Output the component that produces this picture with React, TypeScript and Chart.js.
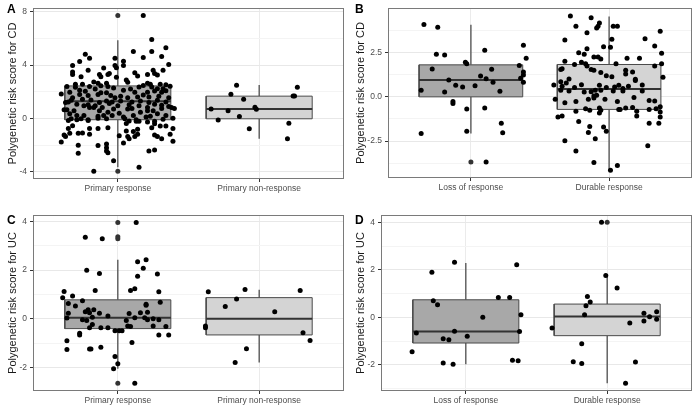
import React, { useEffect, useRef } from "react";
import { Chart, registerables } from "chart.js";

Chart.register(...registerables);

// ---------- categories ----------
const inductionCats = ["Primary response", "Primary non-response"];
const maintenanceCats = ["Loss of response", "Durable response"];

// ---------- axis tick values ----------
const aMajor = [-4, 0, 4, 8];
const aMinor = [-2, 2, 6];
const bMajor = [-2.5, 0, 2.5];
const bMinor = [-3.75, -1.25, 1.25, 3.75];
const cMajor = [-2, 0, 2, 4];
const cMinor = [-1, 1, 3];
const dMajor = [-2, 0, 2, 4];
const dMinor = [-3, -1, 1, 3];

// ---------- box statistics (per category: [first, second]) ----------
const aLow = [-3.66, -1.53];
const aQ1 = [-0.1, -0.03];
const aMed = [1.28, 0.7];
const aQ3 = [2.44, 1.67];
const aHigh = [5.86, 2.5];
const aOutliers: [number, number][] = [[1, 7.73], [1, -3.97]];

const bLow = [-2.08, -4.15];
const bQ1 = [0.0, -0.71];
const bMed = [0.96, 0.45];
const bQ3 = [1.81, 1.83];
const bHigh = [4.08, 4.55];
const bOutliers: [number, number][] = [[1, -3.68]];

const cLow = [-2.05, -1.79];
const cQ1 = [-0.4, -0.66];
const cMed = [0.04, 0.0];
const cQ3 = [0.78, 0.87];
const cHigh = [2.42, 1.19];
const cOutliers: [number, number][] = [[1, 3.95], [1, 3.37], [1, 3.29], [1, -2.64]];

const dLow = [-1.97, -2.77];
const dQ1 = [-1.08, -0.77];
const dMed = [-0.59, 0.04];
const dQ3 = [0.74, 0.56];
const dHigh = [2.29, 1.76];
const dOutliers: [number, number][] = [[2, 4.0]];

// ---------- jittered points: [jitter offset, score] ----------
const cdPrimaryResponse: [number, number][] = [
  [0.18, 7.73], [0.24, 5.92], [0.34, 5.31], [0.24, 5.02], [0.11, 5.02], [0.31, 4.65], [-0.23, 4.82], [-0.2, 4.51],
  [-0.02, 4.51], [0.18, 4.58], [0.36, 4.05], [-0.32, 3.98], [-0.27, 4.27], [-0.02, 3.98], [-0.01, 3.81], [0.04, 4.29],
  [0.04, 3.98], [-0.1, 3.78], [0.25, 3.61], [0.32, 3.61], [-0.32, 3.49], [-0.32, 3.3], [-0.21, 3.61], [-0.13, 3.3],
  [-0.07, 3.3], [-0.06, 3.37], [-0.12, 3.13], [-0.26, 3.13], [0.12, 3.42], [0.14, 3.18], [0.21, 3.3], [0.26, 3.37],
  [0.28, 3.25], [0.06, 2.88], [-0.01, 3.08], [-0.17, 2.74], [-0.14, 2.64], [-0.08, 2.64], [-0.25, 2.57], [-0.3, 2.57],
  [-0.36, 2.4], [0.07, 2.72], [0.21, 2.64], [0.23, 2.57], [0.3, 2.57], [0.34, 2.52], [0.37, 2.42], [-0.2, 2.4],
  [-0.12, 2.45], [-0.07, 2.4], [0.15, 2.35], [0.18, 2.47], [0.24, 2.35], [0.28, 2.23], [0.32, 2.23], [-0.3, 2.33],
  [-0.27, 2.11], [-0.23, 2.04], [-0.16, 2.21], [-0.03, 2.28], [0.04, 2.11], [0.09, 2.21], [0.12, 1.96], [0.21, 1.96],
  [0.26, 2.06], [0.31, 1.96], [0.34, 2.08], [-0.4, 1.84], [-0.34, 1.96], [-0.32, 1.55], [-0.27, 1.79], [-0.21, 1.72],
  [-0.14, 1.79], [-0.12, 1.92], [-0.08, 1.92], [-0.05, 1.72], [-0.02, 1.55], [0.02, 1.67], [0.07, 1.55], [0.14, 1.6],
  [0.18, 1.75], [0.22, 1.6], [0.29, 1.67], [0.36, 1.55], [-0.33, 1.36], [-0.25, 1.43], [-0.19, 1.38], [-0.13, 1.19],
  [-0.08, 1.31], [-0.04, 1.24], [0.02, 1.31], [0.1, 1.24], [0.16, 1.31], [0.22, 1.19], [0.28, 1.36], [0.34, 1.24],
  [-0.37, 1.19], [-0.35, 1.24], [-0.29, 1.07], [-0.24, 0.95], [-0.21, 1.02], [-0.16, 0.95], [-0.11, 0.82], [-0.06, 1.12],
  [0.0, 0.95], [0.08, 1.02], [0.15, 0.95], [0.21, 0.82], [0.26, 1.07], [0.31, 0.99], [0.36, 0.9], [-0.38, 0.65],
  [-0.36, 0.65], [-0.31, 0.58], [-0.2, 0.82], [-0.17, 0.82], [-0.13, 0.58], [-0.07, 0.46], [-0.03, 0.7], [0.01, 0.39],
  [0.07, 0.7], [0.1, 0.75], [0.16, 0.46], [0.21, 0.58], [0.25, 0.58], [0.31, 0.75], [0.38, 0.82], [0.4, 0.75],
  [-0.34, 0.34], [-0.29, 0.22], [-0.24, 0.22], [-0.14, 0.17], [-0.1, 0.22], [-0.04, 0.22], [0.04, 0.1], [0.11, 0.22],
  [0.23, 0.17], [0.28, 0.34], [0.34, 0.22], [-0.33, -0.02], [-0.26, -0.02], [-0.21, -0.15], [-0.14, 0.02], [-0.08, -0.02],
  [0.05, -0.02], [0.08, -0.19], [0.13, -0.1], [0.2, 0.1], [0.26, -0.22], [0.32, -0.07], [0.39, 0.02], [-0.35, -0.15],
  [-0.29, -0.1], [-0.21, -0.1], [0.06, -0.39], [0.13, -0.22], [0.15, -0.22], [0.21, -0.27], [0.26, -0.41], [0.3, -0.58],
  [0.34, -0.58], [-0.35, -0.75], [-0.32, -0.56], [-0.2, -0.75], [-0.14, -0.75], [-0.07, -0.7], [0.24, -0.7], [0.39, -0.75],
  [-0.38, -1.24], [-0.37, -1.36], [-0.34, -1.12], [-0.28, -1.12], [-0.25, -1.09], [-0.2, -1.19], [0.06, -0.95], [0.07, -1.36],
  [0.11, -0.99], [0.14, -0.82], [0.14, -1.19], [0.26, -1.24], [0.28, -1.36], [0.31, -1.53], [0.37, -1.19], [0.01, -1.31],
  [-0.4, -1.77], [-0.28, -2.01], [-0.14, -2.04], [-0.08, -1.92], [-0.08, -2.21], [0.04, -1.84], [0.08, -1.53], [0.12, -1.36],
  [0.39, -1.72], [-0.28, -2.62], [-0.08, -2.45], [-0.07, -2.57], [-0.03, -3.18], [0.22, -2.45], [0.26, -2.38], [0.15, -3.66],
  [-0.17, -3.97],
];
const cdPrimaryNonResponse: [number, number][] = [
  [-0.34, 0.7], [-0.29, -0.12], [-0.22, 0.58], [-0.2, 1.82], [-0.16, 2.49], [-0.14, 0.15], [-0.11, 1.43], [-0.07, -0.78],
  [-0.03, 0.84], [-0.02, 0.68], [0.21, -0.36], [0.2, -1.53], [0.24, 1.69], [0.25, 1.69], [0.27, 2.33],
];
const cdLossOfResponse: [number, number][] = [
  [-0.34, 4.09], [-0.24, 3.93], [-0.25, 2.41], [-0.19, 2.37], [-0.28, 1.58], [-0.36, 0.38], [-0.19, 0.27], [-0.16, 0.96],
  [-0.11, 0.65], [-0.13, -0.27], [-0.13, -0.38], [-0.06, 0.56], [-0.04, 1.96], [-0.03, 1.87], [-0.03, -0.69], [-0.03, -1.94],
  [0.11, -3.68], [-0.36, -2.07], [0.03, 0.63], [0.07, 1.18], [0.1, 2.64], [0.11, 1.03], [0.1, -0.63], [0.15, 1.56],
  [0.16, 0.82], [0.21, 0.31], [0.22, -1.49], [0.23, -2.03], [0.35, 1.78], [0.38, 2.92], [0.38, 1.41], [0.38, 1.23],
  [0.36, 1.05], [0.38, 0.82], [0.4, 2.19],
];
const cdDurableResponse: [number, number][] = [
  [-0.28, 4.58], [-0.13, 4.47], [-0.24, 3.99], [-0.08, 3.99], [-0.07, 4.18], [-0.09, 3.89], [0.03, 4.0], [0.06, 4.0],
  [-0.16, 3.62], [-0.32, 3.22], [0.02, 3.26], [0.26, 3.28], [0.37, 3.71], [0.33, 2.88], [-0.04, 2.83], [0.01, 2.81],
  [-0.16, 2.72], [-0.22, 2.5], [-0.18, 2.41], [0.38, 2.46], [-0.11, 2.26], [-0.08, 2.26], [0.13, 2.19], [0.22, 2.19],
  [-0.32, 2.01], [-0.25, 1.83], [-0.2, 1.96], [-0.17, 1.87], [-0.16, 1.74], [-0.06, 2.14], [0.05, 1.87], [0.38, 1.87],
  [0.33, 1.74], [-0.34, 1.59], [-0.35, 1.54], [-0.13, 1.54], [-0.11, 1.5], [-0.06, 1.38], [0.12, 1.5], [0.12, 1.29],
  [0.17, 1.41], [-0.02, 1.2], [0.02, 1.14], [0.39, 1.11], [-0.29, 1.01], [0.19, 1.0], [0.19, 0.92], [-0.35, 0.85],
  [-0.4, 0.67], [-0.31, 0.78], [-0.2, 0.69], [-0.34, 0.6], [-0.25, 0.53], [-0.07, 0.65], [-0.02, 0.53], [0.04, 0.56],
  [0.07, 0.65], [0.1, 0.47], [0.14, 0.6], [0.24, 0.67], [-0.35, 0.38], [-0.29, 0.33], [-0.18, 0.27], [-0.13, 0.29],
  [-0.1, 0.38], [-0.06, 0.38], [0.03, 0.33], [0.1, 0.33], [0.24, 0.33], [-0.39, -0.13], [-0.32, -0.34], [-0.24, -0.27],
  [-0.15, -0.13], [-0.11, 0.05], [-0.11, -0.07], [-0.09, 0.09], [-0.03, -0.14], [0.06, -0.27], [0.18, -0.04], [0.29, -0.2],
  [0.33, -0.24], [-0.17, -0.67], [-0.14, -0.76], [-0.07, -0.63], [-0.06, -0.76], [0.07, -0.71], [0.08, -0.71], [0.12, -0.63],
  [0.17, -0.6], [0.2, -0.82], [0.2, -1.09], [0.29, -0.71], [0.34, -0.67], [0.37, -0.56], [0.37, -0.85], [0.37, -1.14],
  [-0.07, -0.91], [-0.24, -0.82], [-0.37, -1.14], [-0.34, -1.09], [-0.22, -1.39], [-0.14, -1.67], [-0.15, -2.01], [-0.04, -1.7],
  [-0.02, -1.94], [0.29, -1.49], [0.36, -1.49], [-0.1, -2.37], [-0.32, -2.48], [0.28, -2.77], [-0.24, -3.06], [-0.11, -3.71],
  [0.06, -3.89], [0.01, -4.15],
];
const ucPrimaryResponse: [number, number][] = [
  [0.13, 3.95], [-0.23, 3.35], [-0.11, 3.29], [0.2, 2.42], [0.14, 2.34], [0.18, 2.08], [-0.22, 1.99], [0.28, 1.84],
  [-0.13, 1.86], [0.14, 1.75], [-0.38, 1.12], [-0.39, 0.87], [-0.32, 0.94], [-0.16, 1.16], [0.09, 1.16], [0.12, 1.23],
  [0.29, 1.11], [-0.25, 0.74], [-0.35, 0.63], [-0.3, 0.53], [0.2, 0.6], [0.2, 0.56], [0.3, 0.68], [-0.21, 0.37],
  [-0.17, 0.37], [-0.23, 0.29], [-0.2, 0.25], [-0.13, 0.23], [0.21, 0.27], [0.16, 0.25], [0.08, 0.22], [-0.35, 0.23],
  [-0.36, 0.03], [-0.07, 0.12], [-0.25, -0.04], [-0.22, -0.07], [-0.18, 0.07], [0.12, 0.05], [0.19, 0.04], [0.21, -0.04],
  [0.25, 0.0], [0.29, -0.04], [0.06, -0.07], [-0.2, -0.37], [-0.12, -0.37], [-0.07, -0.37], [-0.18, -0.23], [0.07, -0.29],
  [0.09, -0.31], [0.25, -0.29], [0.34, -0.31], [-0.02, -0.49], [0.01, -0.49], [0.03, -0.49], [-0.27, -0.59], [-0.27, -0.66],
  [0.29, -0.66], [0.36, -0.66], [-0.36, -0.9], [0.1, -0.97], [-0.36, -1.26], [-0.2, -1.24], [-0.19, -1.24], [-0.12, -1.17],
  [-0.02, -1.54], [0.0, -1.84], [-0.03, -2.05], [0.12, -2.64],
];
const ucPrimaryNonResponse: [number, number][] = [
  [-0.36, 1.11], [-0.1, 1.2], [0.29, 1.16], [-0.16, 0.81], [-0.24, 0.51], [0.11, 0.29], [-0.38, -0.29], [-0.38, -0.37],
  [0.31, -0.57], [0.36, -0.89], [-0.09, -1.23], [-0.17, -1.79],
];
const ucLossOfResponse: [number, number][] = [
  [-0.08, 2.32], [0.36, 2.22], [-0.24, 1.9], [-0.23, 0.7], [-0.2, 0.53], [0.23, 0.84], [0.31, 0.84], [0.39, 0.11],
  [0.12, 0.0], [-0.35, -0.66], [-0.16, -0.9], [-0.12, -0.94], [-0.08, -0.58], [0.01, -0.79], [0.38, -0.59], [-0.38, -1.45],
  [-0.16, -1.92], [-0.09, -1.97], [0.33, -1.81], [0.37, -1.83],
];
const ucDurableResponse: [number, number][] = [
  [-0.04, 4.0], [-0.01, 1.76], [0.07, 1.24], [-0.14, 0.88], [-0.12, 0.65], [-0.15, 0.49], [-0.16, 0.11], [0.26, 0.17],
  [0.35, 0.24], [0.3, 0.03], [0.35, -0.08], [0.26, -0.15], [0.16, -0.24], [-0.39, -0.45], [-0.18, -1.11], [-0.24, -1.87],
  [-0.18, -1.94], [0.2, -1.88], [0.13, -2.77],
];

// ---------- styling ----------
const boxFills = ["#a8a8a8", "#d4d4d4"];
const BOX_HALF = 0.375;
const FONT = "'Liberation Sans', Arial, sans-serif";

type PanelSpec = {
  letter: string;
  left: number;
  top: number;
  yTitle: string;
  cats: string[];
  yMin: number;
  yMax: number;
  major: number[];
  minor: number[];
  decimals: number;
  low: number[];
  q1: number[];
  med: number[];
  q3: number[];
  high: number[];
  outliers: [number, number][];
  groups: [number, number][][];
  padTop: number;
  padRight: number;
  yWidth: number;
  xHeight: number;
};

const frame = {
  id: "frame",
  afterDraw(chart: any) {
    const { ctx, chartArea } = chart;
    const { left, top, right, bottom } = chartArea;
    ctx.save();
    ctx.strokeStyle = "#7a7a7a";
    ctx.lineWidth = 1;
    ctx.strokeRect(Math.round(left) + 0.5, Math.round(top) + 0.5, Math.round(right - left) - 1, Math.round(bottom - top) - 1);
    ctx.restore();
  },
};

function isIn(list: number[], v: number) {
  return list.some((m) => Math.abs(m - v) < 1e-9);
}

function buildConfig(p: PanelSpec): any {
  const datasets: any[] = [];
  p.groups.forEach((pts, i) => {
    const cx = i + 1;
    datasets.push({
      type: "scatter",
      data: pts.map(([dx, y]) => ({ x: cx + dx, y })),
      pointRadius: 2.5,
      pointBackgroundColor: "#000",
      pointBorderWidth: 0,
      order: 0,
    });
  });
  datasets.push({
    type: "scatter",
    data: p.outliers.map(([x, y]) => ({ x, y })),
    pointRadius: 2.5,
    pointBackgroundColor: "#333",
    pointBorderWidth: 0,
    order: 1,
  });
  p.cats.forEach((_, i) => {
    const cx = i + 1;
    datasets.push({
      type: "line",
      data: [
        { x: cx - BOX_HALF, y: p.med[i] },
        { x: cx + BOX_HALF, y: p.med[i] },
      ],
      borderColor: "#333",
      borderWidth: 2,
      pointRadius: 0,
      fill: false,
      order: 2,
    });
    datasets.push({
      type: "line",
      data: [
        { x: cx - BOX_HALF, y: p.q1[i] },
        { x: cx + BOX_HALF, y: p.q1[i] },
        { x: cx + BOX_HALF, y: p.q3[i] },
        { x: cx - BOX_HALF, y: p.q3[i] },
        { x: cx - BOX_HALF, y: p.q1[i] },
      ],
      borderColor: "#4a4a4a",
      borderWidth: 1,
      backgroundColor: boxFills[i],
      pointRadius: 0,
      fill: "shape",
      order: 3,
    });
    datasets.push({
      type: "line",
      data: [
        { x: cx, y: p.q3[i] },
        { x: cx, y: p.high[i] },
      ],
      borderColor: "#4d4d4d",
      borderWidth: 1.3,
      pointRadius: 0,
      fill: false,
      order: 4,
    });
    datasets.push({
      type: "line",
      data: [
        { x: cx, y: p.low[i] },
        { x: cx, y: p.q1[i] },
      ],
      borderColor: "#4d4d4d",
      borderWidth: 1.3,
      pointRadius: 0,
      fill: false,
      order: 4,
    });
  });

  const allY = [...p.major, ...p.minor].sort((a, b) => a - b);

  return {
    type: "scatter",
    data: { datasets },
    plugins: [frame],
    options: {
      animation: false,
      responsive: false,
      events: [],
      layout: { padding: { top: p.padTop, right: p.padRight, left: 0, bottom: 0 } },
      plugins: { legend: { display: false }, tooltip: { enabled: false } },
      scales: {
        x: {
          type: "linear",
          min: 0.4,
          max: 2.6,
          afterBuildTicks: (s: any) => {
            s.ticks = p.cats.map((_, i) => ({ value: i + 1 }));
          },
          afterFit: (s: any) => {
            s.height = p.xHeight;
          },
          ticks: {
            callback: (v: number) => p.cats[Math.round(v) - 1] ?? "",
            font: { family: FONT, size: 8.5 },
            color: "#4d4d4d",
            padding: 2,
            maxRotation: 0,
            minRotation: 0,
            autoSkip: false,
          },
          grid: { color: "#ebebeb", lineWidth: 1, tickColor: "#333", tickLength: 3 },
          border: { display: false },
        },
        y: {
          type: "linear",
          min: p.yMin,
          max: p.yMax,
          afterBuildTicks: (s: any) => {
            s.ticks = allY.map((v) => ({ value: v }));
          },
          afterFit: (s: any) => {
            s.width = p.yWidth;
          },
          ticks: {
            callback: (v: number) => (isIn(p.major, v) ? v.toFixed(p.decimals) : ""),
            font: { family: FONT, size: 8.5 },
            color: "#4d4d4d",
            padding: 3,
            autoSkip: false,
          },
          grid: {
            color: (c: any) => (isIn(p.major, c.tick?.value) ? "#e8e8e8" : "#f4f4f4"),
            tickColor: (c: any) => (isIn(p.major, c.tick?.value) ? "#333" : "rgba(0,0,0,0)"),
            lineWidth: 1,
            tickLength: 3,
          },
          border: { display: false },
          title: {
            display: true,
            text: p.yTitle,
            font: { family: FONT, size: 11 },
            color: "#1a1a1a",
            padding: { top: 6, bottom: 0 },
          },
        },
      },
    },
  };
}

const panels: PanelSpec[] = [
  {
    letter: "A", left: 0, top: 0, yTitle: "Polygenetic risk score for CD", cats: inductionCats,
    yMin: -4.55, yMax: 8.28, major: aMajor, minor: aMinor, decimals: 0,
    low: aLow, q1: aQ1, med: aMed, q3: aQ3, high: aHigh, outliers: aOutliers,
    groups: [cdPrimaryResponse, cdPrimaryNonResponse], padTop: 2, padRight: 3, yWidth: 33, xHeight: 24,
  },
  {
    letter: "B", left: 348, top: 0, yTitle: "Polygenetic risk score for CD", cats: maintenanceCats,
    yMin: -4.59, yMax: 5.02, major: bMajor, minor: bMinor, decimals: 1,
    low: bLow, q1: bQ1, med: bMed, q3: bQ3, high: bHigh, outliers: bOutliers,
    groups: [cdLossOfResponse, cdDurableResponse], padTop: 2, padRight: 2, yWidth: 40, xHeight: 25,
  },
  {
    letter: "C", left: 0, top: 203, yTitle: "Polygenetic risk score for UC", cats: inductionCats,
    yMin: -2.96, yMax: 4.26, major: cMajor, minor: cMinor, decimals: 0,
    low: cLow, q1: cQ1, med: cMed, q3: cQ3, high: cHigh, outliers: cOutliers,
    groups: [ucPrimaryResponse, ucPrimaryNonResponse], padTop: 12, padRight: 3, yWidth: 33, xHeight: 15,
  },
  {
    letter: "D", left: 348, top: 203, yTitle: "Polygenetic risk score for UC", cats: maintenanceCats,
    yMin: -3.1, yMax: 4.31, major: dMajor, minor: dMinor, decimals: 0,
    low: dLow, q1: dQ1, med: dMed, q3: dQ3, high: dHigh, outliers: dOutliers,
    groups: [ucLossOfResponse, ucDurableResponse], padTop: 12, padRight: 2, yWidth: 33, xHeight: 15,
  },
];

function Panel({ spec }: { spec: PanelSpec }) {
  const ref = useRef<HTMLCanvasElement | null>(null);
  useEffect(() => {
    if (!ref.current) return;
    const chart = new Chart(ref.current, buildConfig(spec));
    return () => chart.destroy();
  }, [spec]);
  return (
    <div style={{ position: "absolute", left: spec.left, top: spec.top, width: 348, height: 203 }}>
      <canvas ref={ref} width={348} height={203} style={{ display: "block" }} />
      <div
        style={{
          position: "absolute",
          left: 7,
          top: spec.top === 0 ? 3 : 11,
          font: `bold 12px ${FONT}`,
          lineHeight: "12px",
          color: "#000",
        }}
      >
        {spec.letter}
      </div>
    </div>
  );
}

export default function App() {
  return (
    <div style={{ position: "fixed", left: 0, top: 0, width: 696, height: 406, background: "#fff", overflow: "hidden" }}>
      {panels.map((p) => (
        <Panel key={p.letter} spec={p} />
      ))}
    </div>
  );
}
